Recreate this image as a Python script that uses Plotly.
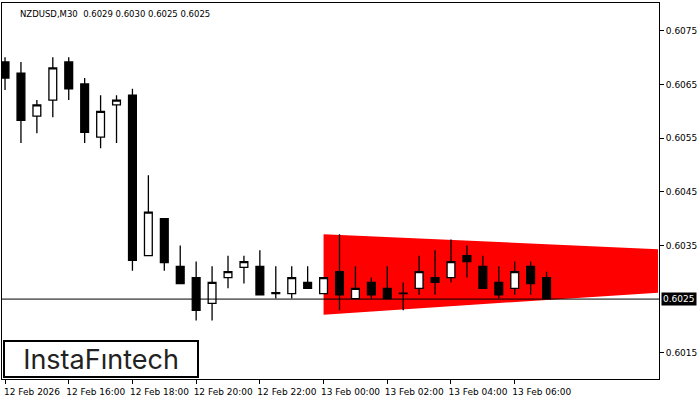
import plotly.graph_objects as go

# bar index 0 = 12 Feb 14:00, 30-minute bars
opens = [0.60692, 0.60671, 0.60591, 0.60621, 0.60692, 0.60651, 0.60552, 0.60612,
         0.60630, 0.60331, 0.60400, 0.60311, 0.60290, 0.60242, 0.60290, 0.60309,
         0.60311, 0.60260, 0.60260, 0.60281, 0.60260, 0.60301, 0.60251, 0.60281,
         0.60270, 0.60260, 0.60270, 0.60290, 0.60290, 0.60331, 0.60311, 0.60281,
         0.60270, 0.60311, 0.60290]
highs = [0.60701, 0.60692, 0.60621, 0.60701, 0.60701, 0.60662, 0.60630, 0.60630,
         0.60642, 0.60481, 0.60400, 0.60350, 0.60320, 0.60311, 0.60331, 0.60331,
         0.60341, 0.60311, 0.60311, 0.60311, 0.60290, 0.60371, 0.60311, 0.60290,
         0.60311, 0.60281, 0.60331, 0.60341, 0.60361, 0.60350, 0.60331, 0.60311,
         0.60320, 0.60320, 0.60301]
lows = [0.60640, 0.60541, 0.60559, 0.60589, 0.60621, 0.60541, 0.60531, 0.60541,
        0.60303, 0.60331, 0.60303, 0.60279, 0.60210, 0.60210, 0.60270, 0.60279,
        0.60258, 0.60251, 0.60251, 0.60270, 0.60260, 0.60229, 0.60251, 0.60251,
        0.60251, 0.60229, 0.60258, 0.60258, 0.60281, 0.60290, 0.60270, 0.60251,
        0.60258, 0.60258, 0.60251]
closes = [0.60662, 0.60583, 0.60612, 0.60681, 0.60642, 0.60561, 0.60600, 0.60621,
          0.60322, 0.60412, 0.60318, 0.60279, 0.60229, 0.60281, 0.60301, 0.60320,
          0.60258, 0.60262, 0.60290, 0.60270, 0.60290, 0.60258, 0.60270, 0.60258,
          0.60251, 0.60261, 0.60301, 0.60281, 0.60320, 0.60320, 0.60270, 0.60258,
          0.60301, 0.60279, 0.60251]

tick_pos = [0, 4, 8, 12, 16, 20, 24, 28, 32]
tick_labels = ["12 Feb 2026", "12 Feb 16:00", "12 Feb 18:00", "12 Feb 20:00", "12 Feb 22:00",
               "13 Feb 00:00", "13 Feb 02:00", "13 Feb 04:00", "13 Feb 06:00"]
price_ticks = [0.6015, 0.6035, 0.6045, 0.6055, 0.6065, 0.6075]

# pennant pattern corners
pat_x = [20, 41, 41, 20]
pat_y = [0.60371, 0.60343, 0.60262, 0.60221]
last_price = 0.6025

x = list(range(len(opens)))

fig = go.Figure()
path = "M " + " L ".join(f"{a},{b}" for a, b in zip(pat_x, pat_y)) + " Z"
fig.add_shape(type="path", path=path, xref="x", yref="y", fillcolor="#ff0000",
              line=dict(width=0), layer="below")
fig.add_trace(go.Candlestick(x=x, open=opens, high=highs, low=lows, close=closes,
                             increasing=dict(fillcolor="white", line=dict(color="black", width=1.3)),
                             decreasing=dict(fillcolor="black", line=dict(color="black", width=1.3)),
                             whiskerwidth=0))
fig.add_hline(y=last_price, line=dict(color="black", width=1))

fig.add_annotation(x=0.025, y=0.99, xref="paper", yref="paper", xanchor="left", yanchor="top",
                   text="NZDUSD,M30  0.6029 0.6030 0.6025 0.6025", showarrow=False,
                   font=dict(family="DejaVu Sans", size=8.5, color="black"))
fig.add_annotation(x=1, y=last_price, xref="paper", yref="y", xanchor="left", yanchor="middle",
                   text="0.6025", showarrow=False, bgcolor="black", xshift=2,
                   font=dict(family="DejaVu Sans", size=9, color="white"))
fig.add_annotation(x=0.002, y=0.003, xref="paper", yref="paper", xanchor="left", yanchor="bottom",
                   text="InstaFıntech", showarrow=False, width=190, height=32,
                   bordercolor="black", borderwidth=2, bgcolor="white",
                   font=dict(family="Inter", size=27, color="#222"))

fig.update_layout(
    width=700, height=400, margin=dict(l=2, r=41, t=3, b=21, autoexpand=False),
    paper_bgcolor="white", plot_bgcolor="white", showlegend=False,
    xaxis=dict(range=[-0.19, 41.06], tickvals=tick_pos, ticktext=tick_labels,
               rangeslider=dict(visible=False), showgrid=False, zeroline=False,
               ticks="outside", ticklen=4, tickcolor="black", ticklabelshift=27,
               showline=True, linecolor="black", mirror=True,
               tickfont=dict(family="DejaVu Sans", size=9, color="black")),
    yaxis=dict(range=[0.60101, 0.60802], side="right", tickvals=price_ticks,
               tickformat=".4f", showgrid=False, zeroline=False,
               ticks="outside", ticklen=4, tickcolor="black",
               showline=True, linecolor="black", mirror=True,
               tickfont=dict(family="DejaVu Sans", size=9, color="black")),
)

fig.write_html("out.html", config={"displayModeBar": False},
               post_script="document.body.style.margin='0';")
